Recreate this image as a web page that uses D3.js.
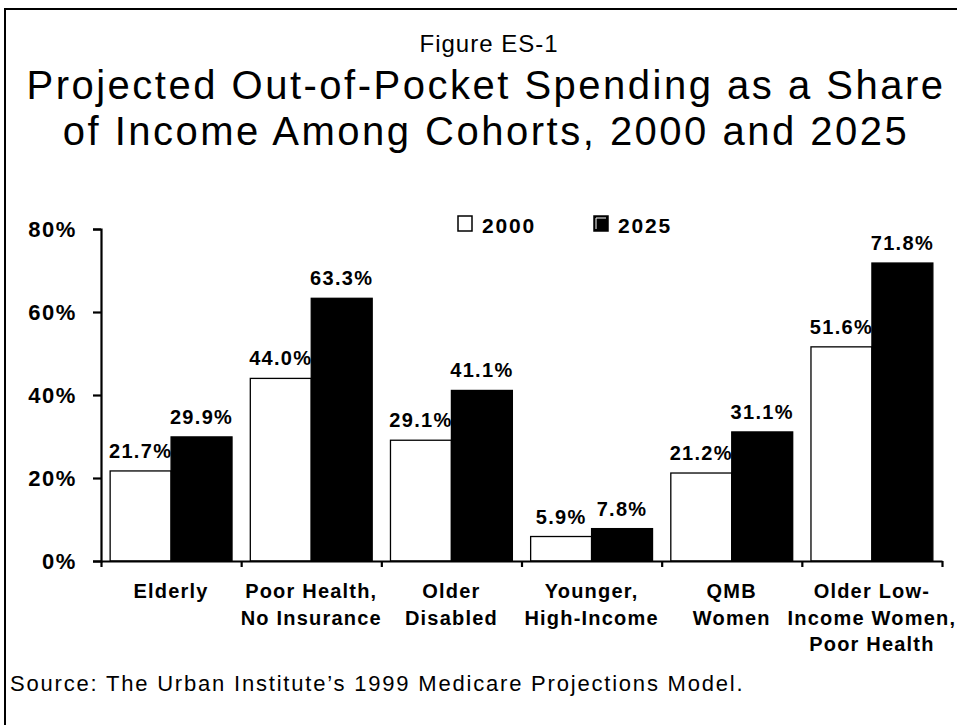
<!DOCTYPE html>
<html><head><meta charset="utf-8">
<script src="https://cdn.jsdelivr.net/npm/d3@7"></script>
<style>
body{margin:0;background:#fff;overflow:hidden}
text{font-family:"Liberation Sans",Arial,sans-serif;fill:#000}
</style>
</head><body>
<svg id="chart" width="957" height="725"></svg>
<script>
// ---- data ----
const categories = [
  ["Elderly"],
  ["Poor Health,", "No Insurance"],
  ["Older", "Disabled"],
  ["Younger,", "High-Income"],
  ["QMB", "Women"],
  ["Older Low-", "Income Women,", "Poor Health"]
];
const seriesNames = ["2000", "2025"];
const values2000 = [21.7, 44.0, 29.1, 5.9, 21.2, 51.6];
const values2025 = [29.9, 63.3, 41.1, 7.8, 31.1, 71.8];
const yTickValues = [0, 20, 40, 60, 80];
const figureLabel = "Figure ES-1";
const titleLines = ["Projected Out-of-Pocket Spending as a Share", "of Income Among Cohorts, 2000 and 2025"];
const sourceText = "Source: The Urban Institute\u2019s 1999 Medicare Projections Model.";

const svg = d3.select("#chart");

// frame
svg.append("path").attr("d", "M5,725 V9 H957").attr("fill", "none").attr("stroke", "#000").attr("stroke-width", 2);

// titles
svg.append("text").attr("x", 489).attr("y", 52).attr("text-anchor", "middle")
  .attr("font-size", 24).attr("letter-spacing", 1.0).text(figureLabel);
svg.selectAll(".title").data(titleLines).join("text").attr("class", "title")
  .attr("x", 486).attr("y", (d, i) => 99 + i * 46).attr("text-anchor", "middle")
  .attr("font-size", 40).attr("letter-spacing", 2.5).text(d => d);

// scales
const x = d3.scaleBand().domain(d3.range(categories.length)).range([101, 942]).paddingInner(0).paddingOuter(0);
const x1 = d3.scaleBand().domain(seriesNames).range([0, x.bandwidth()]).paddingInner(0).paddingOuter(0.15);
const y = d3.scaleLinear().domain([0, 80]).range([561, 229]);

const data = categories.map((c, i) => ({ i, vals: [values2000[i], values2025[i]] }));

// bars
const groups = svg.selectAll(".grp").data(data).join("g").attr("class", "grp")
  .attr("transform", d => `translate(${x(d.i)},0)`);
groups.selectAll("rect").data(d => d.vals.map((v, k) => ({ v, s: seriesNames[k] }))).join("rect")
  .attr("x", d => x1(d.s)).attr("width", x1.bandwidth())
  .attr("y", d => y(d.v)).attr("height", d => y(0) - y(d.v))
  .attr("fill", d => d.s === "2000" ? "#fff" : "#000")
  .attr("stroke", "#000").attr("stroke-width", 1.3);
groups.selectAll(".val").data(d => d.vals.map((v, k) => ({ v, s: seriesNames[k] }))).join("text").attr("class", "val")
  .attr("x", d => x1(d.s) + x1.bandwidth() / 2).attr("y", d => y(d.v) - 13)
  .attr("text-anchor", "middle").attr("font-size", 20).attr("font-weight", "bold")
  .attr("letter-spacing", 1.3).text(d => d.v.toFixed(1) + "%");

// y axis
const yAxis = d3.axisLeft(y).tickValues(yTickValues).tickSize(8).tickPadding(16).tickFormat(d => d + "%");
const ya = svg.append("g").attr("transform", "translate(101,0)").call(yAxis);
ya.select(".domain").attr("stroke-width", 2.2);
ya.selectAll(".tick line").attr("stroke-width", 2.2);
ya.selectAll(".tick text").attr("font-size", 22).attr("font-weight", "bold").attr("letter-spacing", 1.6)
  .attr("font-family", "Liberation Sans, Arial, sans-serif").attr("fill", "#000").attr("dy", "0.36em");

// x axis
const xb = d3.scaleLinear().domain([0, categories.length]).range([101, 942]);
const xa = svg.append("g").attr("transform", `translate(0,${y(0)})`)
  .call(d3.axisBottom(xb).tickValues(d3.range(categories.length + 1)).tickSize(6).tickSizeOuter(0).tickFormat(""));
xa.select(".domain").attr("stroke-width", 2.2);
xa.selectAll(".tick line").attr("stroke-width", 2.2);

// category labels
const cl = svg.selectAll(".cat").data(categories).join("text").attr("class", "cat")
  .attr("text-anchor", "middle").attr("font-size", 20).attr("font-weight", "bold").attr("letter-spacing", 1.2);
cl.each(function (lines, i) {
  d3.select(this).selectAll("tspan").data(lines).join("tspan")
    .attr("x", x(i) + x.bandwidth() / 2).attr("y", (d, k) => 598 + k * 26.5).text(d => d);
});

// legend
const leg = svg.append("g");
const legX = [458, 594];
seriesNames.forEach((s, k) => {
  leg.append("rect").attr("x", legX[k]).attr("y", 216).attr("width", 14).attr("height", 15)
    .attr("fill", k === 0 ? "#fff" : "#000").attr("stroke", "#000").attr("stroke-width", 1.5);
  if (k === 1) {
    leg.append("path").attr("d", `M${legX[k] + 2},${229} V${218} H${legX[k] + 12}`)
      .attr("fill", "none").attr("stroke", "#fff").attr("stroke-width", 1);
  }
  leg.append("text").attr("x", legX[k] + 24).attr("y", 233).attr("font-size", 21).attr("font-weight", "bold")
    .attr("letter-spacing", 1.8).text(s);
});

// source
svg.append("text").attr("x", 10).attr("y", 691).attr("font-size", 22).attr("letter-spacing", 1.8).text(sourceText);
</script>
</body></html>
